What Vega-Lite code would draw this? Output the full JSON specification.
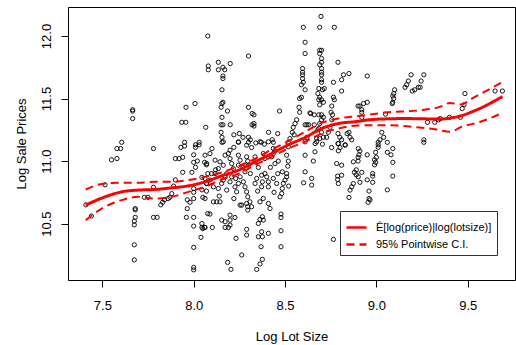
{
"$schema":"https://vega.github.io/schema/vega-lite/v6.json",
"width":447,"height":273,
"autosize":{"type":"none"},
"padding":{"left":68,"top":7,"right":1,"bottom":65},
"background":"white",
"config":{"font":"Liberation Sans","view":{"stroke":"black","strokeWidth":1},
"axis":{"grid":false,"domain":false,"tickColor":"black","tickSize":7,"tickWidth":1,"labelColor":"black","labelFontSize":13,"titleFontSize":13,"titleFontWeight":"normal","titleColor":"black","labelFlush":false,"labelOverlap":false}},
"datasets":{
"pts":[
{"x":8.077,"y":12.0},{"x":8.08,"y":11.76},{"x":8.08,"y":11.73},{"x":7.666,"y":11.41},{"x":7.666,"y":11.4},{"x":7.666,"y":11.34},{"x":7.958,"y":11.43},{"x":8.007,"y":11.46},{"x":7.935,"y":11.31},{"x":7.957,"y":11.31},{"x":8.066,"y":11.27},{"x":7.606,"y":11.15},{"x":7.95,"y":11.15},{"x":8.03,"y":11.15},{"x":8.01,"y":11.13},
{"x":7.58,"y":11.1},{"x":7.6,"y":11.1},{"x":7.55,"y":11.01},{"x":7.58,"y":11.02},{"x":7.78,"y":11.1},{"x":7.515,"y":10.81},{"x":7.41,"y":10.65},{"x":7.44,"y":10.56},
{"x":7.68,"y":10.62},{"x":7.68,"y":10.61},{"x":7.68,"y":10.55},{"x":7.675,"y":10.52},{"x":7.675,"y":10.49},{"x":7.675,"y":10.33},{"x":7.675,"y":10.21},
{"x":7.73,"y":10.71},{"x":7.75,"y":10.71},{"x":7.78,"y":10.79},{"x":7.78,"y":10.55},{"x":7.8,"y":10.55},
{"x":7.82,"y":10.65},{"x":7.83,"y":10.67},{"x":7.84,"y":10.69},{"x":7.86,"y":10.7},{"x":7.87,"y":10.71},{"x":7.88,"y":10.74},{"x":7.89,"y":10.8},{"x":7.9,"y":10.85},
{"x":7.9,"y":11.02},{"x":7.92,"y":11.02},{"x":7.94,"y":11.03},{"x":7.93,"y":11.11},{"x":7.95,"y":11.12},{"x":7.94,"y":10.91},
{"x":7.965,"y":10.69},{"x":7.98,"y":10.67},{"x":7.965,"y":10.62},{"x":7.96,"y":10.55},
{"x":7.99,"y":10.91},{"x":8.01,"y":10.95},{"x":8.0,"y":10.99},{"x":8.02,"y":11.0},{"x":8.0,"y":11.05},{"x":8.01,"y":11.11},{"x":8.03,"y":11.13},
{"x":8.0,"y":10.78},{"x":8.0,"y":10.75},{"x":8.0,"y":10.7},{"x":8.0,"y":10.55},{"x":8.0,"y":10.48},{"x":8.0,"y":10.31},{"x":8.0,"y":10.15},{"x":8.0,"y":10.13},
{"x":8.045,"y":10.77},{"x":8.05,"y":10.71},{"x":8.045,"y":10.5},{"x":8.045,"y":10.47},{"x":8.05,"y":10.46},{"x":8.06,"y":10.47},{"x":8.04,"y":10.39},
{"x":8.045,"y":10.87},{"x":8.06,"y":10.99},{"x":8.07,"y":10.97},{"x":8.077,"y":10.9},{"x":8.07,"y":10.82},{"x":8.07,"y":10.76},{"x":8.077,"y":10.58},
{"x":8.697,"y":12.157},{"x":8.6,"y":12.07},{"x":8.69,"y":12.07},{"x":8.77,"y":12.07},{"x":8.61,"y":11.95},{"x":8.61,"y":11.86},{"x":8.3,"y":11.84},
{"x":8.135,"y":11.79},{"x":8.16,"y":11.75},{"x":8.17,"y":11.73},{"x":8.135,"y":11.73},{"x":8.2,"y":11.78},
{"x":8.16,"y":11.68},{"x":8.16,"y":11.66},{"x":8.155,"y":11.57},{"x":8.155,"y":11.46},{"x":8.16,"y":11.47},{"x":8.15,"y":11.43},{"x":8.155,"y":11.35},{"x":8.15,"y":11.29},{"x":8.16,"y":11.29},{"x":8.15,"y":11.23},{"x":8.155,"y":11.19},{"x":8.155,"y":11.15},{"x":8.185,"y":11.4},{"x":8.2,"y":11.29},
{"x":8.22,"y":11.21},{"x":8.25,"y":11.22},{"x":8.245,"y":11.15},{"x":8.41,"y":11.23},{"x":8.43,"y":11.17},{"x":8.46,"y":11.22},{"x":8.47,"y":11.4},{"x":8.37,"y":11.15},{"x":8.3,"y":11.19},{"x":8.31,"y":11.17},{"x":8.32,"y":11.29},{"x":8.33,"y":11.28},{"x":8.33,"y":11.3},{"x":8.3,"y":11.43},{"x":8.32,"y":11.38},{"x":8.33,"y":11.37},
{"x":8.34,"y":11.145},{"x":8.27,"y":11.19},{"x":8.3,"y":11.15},{"x":8.22,"y":11.11},{"x":8.436,"y":11.15},
{"x":8.596,"y":11.74},{"x":8.596,"y":11.71},{"x":8.596,"y":11.69},{"x":8.596,"y":11.66},{"x":8.6,"y":11.63},{"x":8.59,"y":11.61},{"x":8.61,"y":11.57},{"x":8.59,"y":11.51},{"x":8.58,"y":11.5},{"x":8.577,"y":11.43},{"x":8.58,"y":11.39},{"x":8.564,"y":11.33},{"x":8.555,"y":11.3},{"x":8.545,"y":11.27},{"x":8.54,"y":11.23},{"x":8.55,"y":11.21},{"x":8.527,"y":11.18},{"x":8.518,"y":11.15},{"x":8.61,"y":11.29},{"x":8.63,"y":11.29},{"x":8.64,"y":11.38},
{"x":8.69,"y":11.886},{"x":8.7,"y":11.886},{"x":8.69,"y":11.86},{"x":8.7,"y":11.82},{"x":8.7,"y":11.79},{"x":8.69,"y":11.77},{"x":8.7,"y":11.74},{"x":8.7,"y":11.71},{"x":8.7,"y":11.69},{"x":8.7,"y":11.65},{"x":8.7,"y":11.63},{"x":8.685,"y":11.58},{"x":8.705,"y":11.57},{"x":8.68,"y":11.54},{"x":8.69,"y":11.51},{"x":8.7,"y":11.49},{"x":8.685,"y":11.49},{"x":8.71,"y":11.47},{"x":8.69,"y":11.45},{"x":8.7,"y":11.37},{"x":8.685,"y":11.37},{"x":8.71,"y":11.35},{"x":8.7,"y":11.33},{"x":8.69,"y":11.3},{"x":8.685,"y":11.26},{"x":8.7,"y":11.23},{"x":8.71,"y":11.19},{"x":8.69,"y":11.18},{"x":8.665,"y":11.14},{"x":8.705,"y":11.135},{"x":8.715,"y":11.58},
{"x":8.765,"y":11.63},{"x":8.79,"y":11.79},{"x":8.81,"y":11.65},{"x":8.82,"y":11.69},{"x":8.85,"y":11.7},{"x":8.81,"y":11.56},{"x":8.765,"y":11.51},{"x":8.77,"y":11.49},{"x":8.756,"y":11.44},{"x":8.752,"y":11.39},{"x":8.76,"y":11.37},{"x":8.756,"y":11.33},{"x":8.746,"y":11.27},{"x":8.737,"y":11.23},{"x":8.728,"y":11.19},{"x":8.79,"y":11.22},{"x":8.8,"y":11.19},{"x":8.81,"y":11.17},{"x":8.84,"y":11.22},{"x":8.85,"y":11.23},{"x":8.856,"y":11.19},{"x":8.865,"y":11.17},{"x":8.79,"y":11.14},{"x":8.83,"y":11.13},{"x":8.9,"y":11.44},{"x":8.637,"y":11.385},{"x":8.66,"y":11.37},{"x":8.62,"y":11.19},{"x":8.62,"y":11.29},{"x":8.66,"y":11.29},{"x":8.68,"y":11.25},{"x":8.673,"y":11.18},
{"x":8.95,"y":11.68},{"x":9.19,"y":11.69},{"x":9.26,"y":11.69},{"x":9.175,"y":11.64},{"x":9.166,"y":11.61},{"x":9.157,"y":11.59},{"x":9.197,"y":11.56},{"x":9.21,"y":11.57},{"x":9.23,"y":11.59},{"x":9.245,"y":11.64},{"x":9.24,"y":11.59},
{"x":9.1,"y":11.57},{"x":9.095,"y":11.54},{"x":9.09,"y":11.52},{"x":9.095,"y":11.5},{"x":9.09,"y":11.47},{"x":9.087,"y":11.46},
{"x":8.91,"y":11.44},{"x":8.92,"y":11.41},{"x":8.92,"y":11.39},{"x":8.92,"y":11.35},{"x":8.95,"y":11.47},{"x":8.93,"y":11.46},{"x":9.05,"y":11.375},
{"x":9.28,"y":11.31},{"x":9.32,"y":11.31},{"x":9.34,"y":11.33},{"x":9.35,"y":11.34},{"x":9.4,"y":11.35},{"x":9.46,"y":11.35},{"x":9.47,"y":11.42},{"x":9.48,"y":11.45},{"x":9.485,"y":11.54},{"x":9.65,"y":11.56},{"x":9.69,"y":11.56},
{"x":9.03,"y":11.23},{"x":9.02,"y":11.17},{"x":9.01,"y":11.15},{"x":9.04,"y":11.19},{"x":9.06,"y":11.15},{"x":9.26,"y":11.17},{"x":9.26,"y":11.15},
{"x":9.01,"y":11.13},{"x":9.01,"y":11.11},{"x":8.996,"y":11.07},{"x":9.0,"y":11.03},{"x":8.99,"y":11.01},{"x":8.996,"y":10.99},{"x":8.99,"y":10.97},{"x":8.98,"y":10.9},{"x":8.98,"y":10.88},{"x":8.98,"y":10.83},{"x":8.96,"y":10.76},{"x":8.96,"y":10.7},{"x":8.955,"y":10.67},{"x":8.965,"y":10.69},
{"x":8.91,"y":11.08},{"x":8.905,"y":11.05},{"x":8.9,"y":11.03},{"x":8.9,"y":11.0},{"x":8.89,"y":10.93},{"x":8.88,"y":10.91},{"x":8.89,"y":10.89},{"x":8.91,"y":10.83},{"x":8.95,"y":10.85},{"x":8.92,"y":10.91},{"x":8.95,"y":11.05},
{"x":9.06,"y":11.07},{"x":9.08,"y":11.05},{"x":9.09,"y":11.1},{"x":9.09,"y":10.99},{"x":9.09,"y":10.88},{"x":9.06,"y":10.77},
{"x":8.162,"y":11.154},{"x":8.245,"y":11.154},{"x":8.29,"y":11.127},{"x":8.317,"y":11.108},{"x":8.363,"y":11.154},{"x":8.387,"y":11.135},{"x":8.409,"y":11.154},{"x":8.436,"y":11.1},{"x":8.445,"y":11.082},{"x":8.518,"y":11.114},{"x":8.61,"y":11.154},{"x":8.673,"y":11.154},{"x":8.792,"y":11.14},{"x":8.801,"y":11.108},{"x":8.792,"y":11.082},{"x":8.829,"y":11.127},{"x":8.901,"y":11.1},
{"x":8.062,"y":11.047},{"x":8.089,"y":11.06},{"x":8.071,"y":10.98},{"x":8.117,"y":11.007},{"x":8.098,"y":10.9},{"x":8.144,"y":10.994},{"x":8.135,"y":10.94},{"x":8.162,"y":10.967},{"x":8.172,"y":11.047},{"x":8.19,"y":11.06},{"x":8.199,"y":11.02},{"x":8.199,"y":11.087},{"x":8.208,"y":10.98},{"x":8.217,"y":10.94},{"x":8.245,"y":11.047},{"x":8.254,"y":11.007},{"x":8.245,"y":10.967},{"x":8.29,"y":11.034},{"x":8.296,"y":11.0},{"x":8.299,"y":10.967},{"x":8.281,"y":10.914},{"x":8.336,"y":11.034},{"x":8.336,"y":10.994},{"x":8.354,"y":10.949},{"x":8.381,"y":11.06},{"x":8.39,"y":11.02},{"x":8.427,"y":11.034},{"x":8.436,"y":11.06},{"x":8.445,"y":10.98},{"x":8.463,"y":11.0},{"x":8.509,"y":11.047},{"x":8.518,"y":11.0},{"x":8.515,"y":10.959},{"x":8.509,"y":10.9},{"x":8.485,"y":10.914},{"x":8.61,"y":11.047},{"x":8.61,"y":10.914},{"x":8.646,"y":10.861},{"x":8.664,"y":11.074},{"x":8.655,"y":11.0},{"x":8.755,"y":11.108},{"x":8.783,"y":10.98},{"x":8.81,"y":10.967},{"x":8.874,"y":10.994},{"x":8.788,"y":10.88},{"x":8.81,"y":10.887},{"x":8.788,"y":10.853},{"x":8.792,"y":10.82},{"x":8.874,"y":10.82},{"x":8.865,"y":10.794},{"x":8.856,"y":10.768},{"x":8.85,"y":10.709},{"x":8.901,"y":10.874},{"x":8.602,"y":10.826},{"x":8.646,"y":10.808},
{"x":8.062,"y":10.861},{"x":8.071,"y":10.821},{"x":8.089,"y":10.848},{"x":8.117,"y":10.9},{"x":8.108,"y":10.794},{"x":8.135,"y":10.781},{"x":8.153,"y":10.821},{"x":8.162,"y":10.848},{"x":8.172,"y":10.874},{"x":8.181,"y":10.768},{"x":8.199,"y":10.834},{"x":8.208,"y":10.874},{"x":8.226,"y":10.794},{"x":8.235,"y":10.754},{"x":8.245,"y":10.821},{"x":8.254,"y":10.874},{"x":8.272,"y":10.834},{"x":8.281,"y":10.794},{"x":8.29,"y":10.754},{"x":8.296,"y":10.714},{"x":8.29,"y":10.661},{"x":8.296,"y":10.635},{"x":8.296,"y":10.608},{"x":8.308,"y":10.674},{"x":8.317,"y":10.635},{"x":8.263,"y":10.648},{"x":8.336,"y":10.821},{"x":8.345,"y":10.861},{"x":8.372,"y":10.887},{"x":8.376,"y":10.834},{"x":8.372,"y":10.794},{"x":8.4,"y":10.874},{"x":8.409,"y":10.834},{"x":8.409,"y":10.794},{"x":8.39,"y":10.9},{"x":8.363,"y":10.674},{"x":8.381,"y":10.701},{"x":8.409,"y":10.661},{"x":8.418,"y":10.621},{"x":8.436,"y":10.861},{"x":8.454,"y":10.821},{"x":8.473,"y":10.714},{"x":8.482,"y":10.741},{"x":8.485,"y":10.781},{"x":8.491,"y":10.821},{"x":8.5,"y":10.848},{"x":8.509,"y":10.874},{"x":8.478,"y":10.576},{"x":8.478,"y":10.549},
{"x":8.062,"y":10.701},{"x":8.108,"y":10.674},{"x":8.126,"y":10.674},{"x":8.144,"y":10.674},{"x":8.089,"y":10.576},{"x":8.062,"y":10.469},{"x":8.102,"y":10.469},{"x":8.153,"y":10.528},{"x":8.172,"y":10.515},{"x":8.199,"y":10.528},{"x":8.199,"y":10.488},{"x":8.172,"y":10.469},{"x":8.19,"y":10.469},{"x":8.199,"y":10.568},{"x":8.226,"y":10.549},{"x":8.232,"y":10.382},{"x":8.263,"y":10.249},{"x":8.186,"y":10.19},{"x":8.204,"y":10.134},{"x":8.254,"y":10.648},{"x":8.29,"y":10.454},{"x":8.29,"y":10.408},{"x":8.354,"y":10.501},{"x":8.363,"y":10.533},{"x":8.376,"y":10.555},{"x":8.381,"y":10.528},{"x":8.354,"y":10.395},{"x":8.376,"y":10.395},{"x":8.372,"y":10.435},{"x":8.409,"y":10.422},{"x":8.369,"y":10.315},{"x":8.363,"y":10.177},{"x":8.376,"y":10.214},{"x":8.345,"y":10.134},{"x":8.478,"y":10.443},{"x":8.478,"y":10.315},{"x":8.765,"y":10.374},
{"x":8.12,"y":10.93},{"x":8.18,"y":10.9},{"x":8.23,"y":10.86},{"x":8.27,"y":10.95},{"x":8.31,"y":10.9},{"x":8.35,"y":10.76},{"x":8.42,"y":10.95},{"x":8.46,"y":10.9},{"x":8.14,"y":10.72},{"x":8.22,"y":10.7},{"x":8.44,"y":10.75},{"x":8.1,"y":11.1},{"x":8.52,"y":10.8}
],
"lines":[
{"x":7.409,"y":10.648,"series":"fit","kind":"Ê[log(price)|log(lotsize)]"},{"x":7.515,"y":10.714,"series":"fit","kind":"Ê[log(price)|log(lotsize)]"},{"x":7.606,"y":10.754,"series":"fit","kind":"Ê[log(price)|log(lotsize)]"},{"x":7.697,"y":10.768,"series":"fit","kind":"Ê[log(price)|log(lotsize)]"},{"x":7.788,"y":10.773,"series":"fit","kind":"Ê[log(price)|log(lotsize)]"},{"x":7.88,"y":10.786,"series":"fit","kind":"Ê[log(price)|log(lotsize)]"},{"x":7.971,"y":10.802,"series":"fit","kind":"Ê[log(price)|log(lotsize)]"},{"x":8.062,"y":10.834,"series":"fit","kind":"Ê[log(price)|log(lotsize)]"},{"x":8.153,"y":10.882,"series":"fit","kind":"Ê[log(price)|log(lotsize)]"},{"x":8.245,"y":10.927,"series":"fit","kind":"Ê[log(price)|log(lotsize)]"},{"x":8.336,"y":10.994,"series":"fit","kind":"Ê[log(price)|log(lotsize)]"},{"x":8.427,"y":11.06,"series":"fit","kind":"Ê[log(price)|log(lotsize)]"},{"x":8.518,"y":11.13,"series":"fit","kind":"Ê[log(price)|log(lotsize)]"},{"x":8.609,"y":11.188,"series":"fit","kind":"Ê[log(price)|log(lotsize)]"},{"x":8.7,"y":11.26,"series":"fit","kind":"Ê[log(price)|log(lotsize)]"},{"x":8.792,"y":11.3,"series":"fit","kind":"Ê[log(price)|log(lotsize)]"},{"x":8.883,"y":11.315,"series":"fit","kind":"Ê[log(price)|log(lotsize)]"},{"x":8.974,"y":11.332,"series":"fit","kind":"Ê[log(price)|log(lotsize)]"},{"x":9.065,"y":11.338,"series":"fit","kind":"Ê[log(price)|log(lotsize)]"},{"x":9.157,"y":11.34,"series":"fit","kind":"Ê[log(price)|log(lotsize)]"},{"x":9.248,"y":11.338,"series":"fit","kind":"Ê[log(price)|log(lotsize)]"},{"x":9.348,"y":11.336,"series":"fit","kind":"Ê[log(price)|log(lotsize)]"},{"x":9.42,"y":11.348,"series":"fit","kind":"Ê[log(price)|log(lotsize)]"},{"x":9.476,"y":11.367,"series":"fit","kind":"Ê[log(price)|log(lotsize)]"},{"x":9.53,"y":11.398,"series":"fit","kind":"Ê[log(price)|log(lotsize)]"},{"x":9.585,"y":11.433,"series":"fit","kind":"Ê[log(price)|log(lotsize)]"},{"x":9.64,"y":11.475,"series":"fit","kind":"Ê[log(price)|log(lotsize)]"},{"x":9.69,"y":11.515,"series":"fit","kind":"Ê[log(price)|log(lotsize)]"},
{"x":7.409,"y":10.773,"series":"upper","kind":"95% Pointwise C.I."},{"x":7.515,"y":10.821,"series":"upper","kind":"95% Pointwise C.I."},{"x":7.606,"y":10.826,"series":"upper","kind":"95% Pointwise C.I."},{"x":7.697,"y":10.826,"series":"upper","kind":"95% Pointwise C.I."},{"x":7.788,"y":10.834,"series":"upper","kind":"95% Pointwise C.I."},{"x":7.88,"y":10.834,"series":"upper","kind":"95% Pointwise C.I."},{"x":7.971,"y":10.848,"series":"upper","kind":"95% Pointwise C.I."},{"x":8.062,"y":10.874,"series":"upper","kind":"95% Pointwise C.I."},{"x":8.153,"y":10.909,"series":"upper","kind":"95% Pointwise C.I."},{"x":8.245,"y":10.959,"series":"upper","kind":"95% Pointwise C.I."},{"x":8.336,"y":11.02,"series":"upper","kind":"95% Pointwise C.I."},{"x":8.427,"y":11.092,"series":"upper","kind":"95% Pointwise C.I."},{"x":8.518,"y":11.159,"series":"upper","kind":"95% Pointwise C.I."},{"x":8.609,"y":11.233,"series":"upper","kind":"95% Pointwise C.I."},{"x":8.7,"y":11.305,"series":"upper","kind":"95% Pointwise C.I."},{"x":8.792,"y":11.34,"series":"upper","kind":"95% Pointwise C.I."},{"x":8.901,"y":11.36,"series":"upper","kind":"95% Pointwise C.I."},{"x":9.065,"y":11.39,"series":"upper","kind":"95% Pointwise C.I."},{"x":9.238,"y":11.406,"series":"upper","kind":"95% Pointwise C.I."},{"x":9.348,"y":11.433,"series":"upper","kind":"95% Pointwise C.I."},{"x":9.403,"y":11.465,"series":"upper","kind":"95% Pointwise C.I."},{"x":9.46,"y":11.452,"series":"upper","kind":"95% Pointwise C.I."},{"x":9.53,"y":11.505,"series":"upper","kind":"95% Pointwise C.I."},{"x":9.6,"y":11.56,"series":"upper","kind":"95% Pointwise C.I."},{"x":9.69,"y":11.632,"series":"upper","kind":"95% Pointwise C.I."},
{"x":7.409,"y":10.528,"series":"lower","kind":"95% Pointwise C.I."},{"x":7.515,"y":10.635,"series":"lower","kind":"95% Pointwise C.I."},{"x":7.606,"y":10.688,"series":"lower","kind":"95% Pointwise C.I."},{"x":7.697,"y":10.714,"series":"lower","kind":"95% Pointwise C.I."},{"x":7.788,"y":10.701,"series":"lower","kind":"95% Pointwise C.I."},{"x":7.88,"y":10.714,"series":"lower","kind":"95% Pointwise C.I."},{"x":7.971,"y":10.754,"series":"lower","kind":"95% Pointwise C.I."},{"x":8.062,"y":10.794,"series":"lower","kind":"95% Pointwise C.I."},{"x":8.153,"y":10.853,"series":"lower","kind":"95% Pointwise C.I."},{"x":8.245,"y":10.9,"series":"lower","kind":"95% Pointwise C.I."},{"x":8.336,"y":10.967,"series":"lower","kind":"95% Pointwise C.I."},{"x":8.427,"y":11.034,"series":"lower","kind":"95% Pointwise C.I."},{"x":8.518,"y":11.1,"series":"lower","kind":"95% Pointwise C.I."},{"x":8.609,"y":11.154,"series":"lower","kind":"95% Pointwise C.I."},{"x":8.7,"y":11.22,"series":"lower","kind":"95% Pointwise C.I."},{"x":8.792,"y":11.26,"series":"lower","kind":"95% Pointwise C.I."},{"x":8.901,"y":11.285,"series":"lower","kind":"95% Pointwise C.I."},{"x":9.065,"y":11.287,"series":"lower","kind":"95% Pointwise C.I."},{"x":9.238,"y":11.268,"series":"lower","kind":"95% Pointwise C.I."},{"x":9.33,"y":11.252,"series":"lower","kind":"95% Pointwise C.I."},{"x":9.403,"y":11.234,"series":"lower","kind":"95% Pointwise C.I."},{"x":9.467,"y":11.274,"series":"lower","kind":"95% Pointwise C.I."},{"x":9.567,"y":11.313,"series":"lower","kind":"95% Pointwise C.I."},{"x":9.69,"y":11.385,"series":"lower","kind":"95% Pointwise C.I."}
]},
"encoding":{
"x":{"field":"x","type":"quantitative","scale":{"domain":[7.312,9.759],"nice":false,"zero":false},"axis":{"values":[7.5,8,8.5,9,9.5],"format":".1f","title":"Log Lot Size","labelPadding":12,"titlePadding":18}},
"y":{"field":"y","type":"quantitative","scale":{"domain":[10.049,12.232],"nice":false,"zero":false},"axis":{"values":[10.5,11,11.5,12],"format":".1f","title":"Log Sale Prices","labelAngle":-90,"labelAlign":"center","labelBaseline":"bottom","labelPadding":8,"titlePadding":12}}
},
"layer":[
{"data":{"name":"pts"},"mark":{"type":"point","shape":"circle","filled":false,"stroke":"black","strokeWidth":0.9,"size":18,"opacity":1}},
{"data":{"name":"lines"},"transform":[{"filter":"datum.series == 'fit'"}],"mark":{"type":"line","color":"red","strokeWidth":3,"interpolate":"monotone"},
"encoding":{"strokeDash":{"field":"kind","type":"nominal","scale":{"domain":["Ê[log(price)|log(lotsize)]","95% Pointwise C.I."],"range":[[1,0],[8,5]]},
"legend":{"orient":"none","legendX":272,"legendY":204,"title":null,"fillColor":"white","strokeColor":"#333","padding":5,"symbolType":"stroke","symbolStrokeColor":"red","symbolStrokeWidth":2.5,"symbolSize":400,"labelFontSize":11,"labelColor":"black","labelOffset":8,"labelLimit":0,"rowPadding":-3}}}},
{"data":{"name":"lines"},"transform":[{"filter":"datum.series != 'fit'"}],"mark":{"type":"line","color":"red","strokeWidth":2,"interpolate":"monotone"},
"encoding":{"detail":{"field":"series","type":"nominal"},"strokeDash":{"field":"kind","type":"nominal"}}}
]
}
